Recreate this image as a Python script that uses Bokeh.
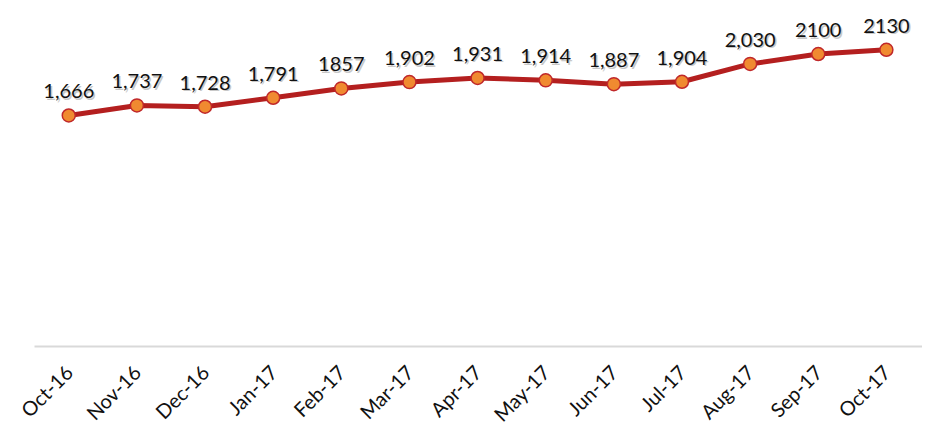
import math
from bokeh.plotting import figure
from bokeh.models import Range1d, ColumnDataSource
from bokeh.core.properties import value
from bokeh.embed import file_html
from bokeh.resources import INLINE

months = ["Oct-16", "Nov-16", "Dec-16", "Jan-17", "Feb-17", "Mar-17", "Apr-17",
          "May-17", "Jun-17", "Jul-17", "Aug-17", "Sep-17", "Oct-17"]
values = [1666, 1737, 1728, 1791, 1857, 1902, 1931, 1914, 1887, 1904, 2030, 2100, 2130]
labels = ["1,666", "1,737", "1,728", "1,791", "1857", "1,902", "1,931",
          "1,914", "1,887", "1,904", "2,030", "2100", "2130"]

xs = list(range(len(months)))
src = ColumnDataSource(dict(x=xs, y=values, lab=labels))

p = figure(frame_width=888, frame_height=346, output_backend="svg", toolbar_location=None,
           x_range=Range1d(-0.503, 12.53), y_range=Range1d(34.6, 2478),
           min_border_left=34, min_border_right=0, min_border_top=0, min_border_bottom=0)
p.outline_line_color = None
p.xgrid.visible = False
p.ygrid.visible = False
p.yaxis.visible = False
p.background_fill_color = "white"
p.border_fill_color = "white"

p.line("x", "y", source=src, line_color="#b41f1f", line_width=5)
p.scatter("x", "y", source=src, size=13, fill_color="#f08a30",
          line_color="#c0282a", line_width=1.5)

# soft shadow then label
p.text("x", "y", text="lab", source=src, x_offset=1.5, y_offset=-22.5,
       text_align="center", text_baseline="alphabetic",
       text_font=value("Lato"), text_font_size="20px", text_color="#c8c8c8")
p.text("x", "y", text="lab", source=src, y_offset=-24,
       text_align="center", text_baseline="alphabetic",
       text_font=value("Lato"), text_font_size="20px", text_color="#111111")

ax = p.xaxis[0]
ax.ticker = xs
ax.major_label_overrides = {i: m for i, m in enumerate(months)}
ax.major_label_orientation = math.pi / 4
ax.major_label_text_font = "Lato"
ax.major_label_text_font_size = "20px"
ax.major_label_text_color = "#111111"
ax.major_label_standoff = 16
ax.major_tick_line_color = None
ax.minor_tick_line_color = None
ax.axis_line_color = "#d9d9d9"
ax.axis_line_width = 2

open("out.html", "w").write(file_html(p, INLINE))
